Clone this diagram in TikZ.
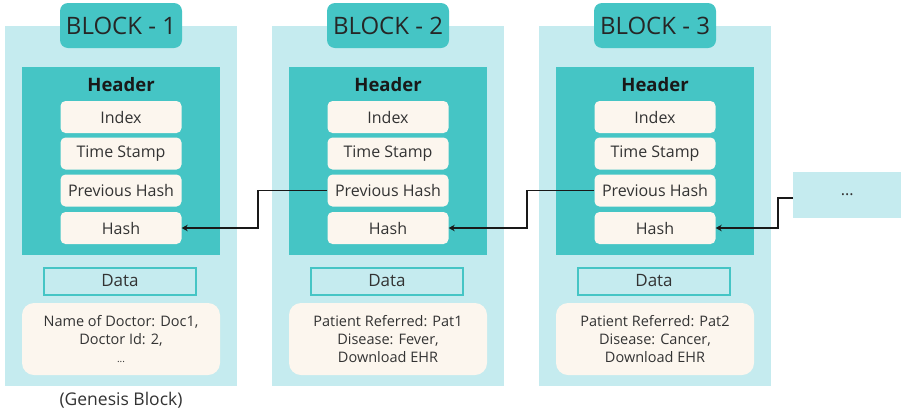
\documentclass[tikz,border=0pt]{standalone}
\usepackage{fontspec}
\setmainfont{Open Sans}
\usetikzlibrary{arrows.meta}
\definecolor{panel}{HTML}{C5EBEF}
\definecolor{tealc}{HTML}{45C5C5}
\definecolor{cream}{HTML}{FCF6EE}
\definecolor{txt}{HTML}{333333}
\tikzset{
  panelbox/.style={fill=panel, draw=none, minimum width=232pt, minimum height=360pt, inner sep=0pt},
  titletab/.style={fill=tealc, rounded corners=8pt, minimum width=122pt, minimum height=45pt, inner sep=0pt, font=\fontsize{24}{28}\selectfont, text=black!85},
  headerbox/.style={fill=tealc, minimum width=198pt, minimum height=188pt, inner sep=0pt},
  headertext/.style={font=\fontsize{18.5}{20}\selectfont\bfseries, text=black!90},
  itembox/.style={fill=cream, rounded corners=5pt, minimum width=121pt, minimum height=32pt, inner sep=0pt, font=\fontsize{16}{18}\selectfont, text=txt},
  databox/.style={fill=panel, draw=tealc, line width=2pt, minimum width=152pt, minimum height=27pt, inner sep=0pt, font=\fontsize{17}{19}\selectfont, text=txt},
  datatext/.style={fill=cream, rounded corners=12pt, minimum width=198pt, minimum height=72pt, inner sep=0pt, align=center, font=\fontsize{14.5}{18}\selectfont, text=txt},
  link/.style={draw=black!90, line width=1.8pt, -{Stealth[length=6pt,width=6.5pt]}},
}
\begin{document}
\begin{tikzpicture}[x=1pt,y=-1pt]
\useasboundingbox (0,0) rectangle (901,413);
\foreach \i/\dx/\dtext in {1/0/{Name of Doctor: Doc1,\\ Doctor Id: 2,\\ \fontsize{10}{10}\selectfont...},
                          2/267/{Patient Referred: Pat1\\ Disease: Fever,\\ Download EHR},
                          3/534/{Patient Referred: Pat2\\ Disease: Cancer,\\ Download EHR}}{
  \node[panelbox] (blk\i) at (121+\dx,206) {};
  \node[titletab] (tt\i) at (121+\dx,25.5) {BLOCK - \i};
  \node[headerbox] (hd\i) at (121+\dx,161) {};
  \node[headertext] (hl\i) at (121+\dx,85) {Header};
  \node[itembox] (ix\i) at (121+\dx,117) {Index};
  \node[itembox] (ts\i) at (121+\dx,153.5) {Time Stamp};
  \node[itembox] (ph\i) at (121+\dx,190.5) {Previous Hash};
  \node[itembox] (hs\i) at (121+\dx,228) {Hash};
  \node[databox] (dl\i) at (120+\dx,281) {Data};
  \node[datatext] (dt\i) at (121+\dx,339) {\dtext};
}
\node[font=\fontsize{17.5}{19}\selectfont, text=txt] (gen) at (121,400) {(Genesis Block)};
\node[fill=panel, minimum width=108pt, minimum height=46pt, inner sep=0pt, anchor=west, font=\fontsize{16}{18}\selectfont, text=txt] (more) at (793,195) {...};
\draw[link] (ph2.west) -- ++(-69,0) |- (hs1.east);
\draw[link] (ph3.west) -- ++(-67,0) |- (hs2.east);
\draw[link] ([yshift=-3pt]more.west) -- ++(-15,0) |- (hs3.east);
\end{tikzpicture}
\end{document}
